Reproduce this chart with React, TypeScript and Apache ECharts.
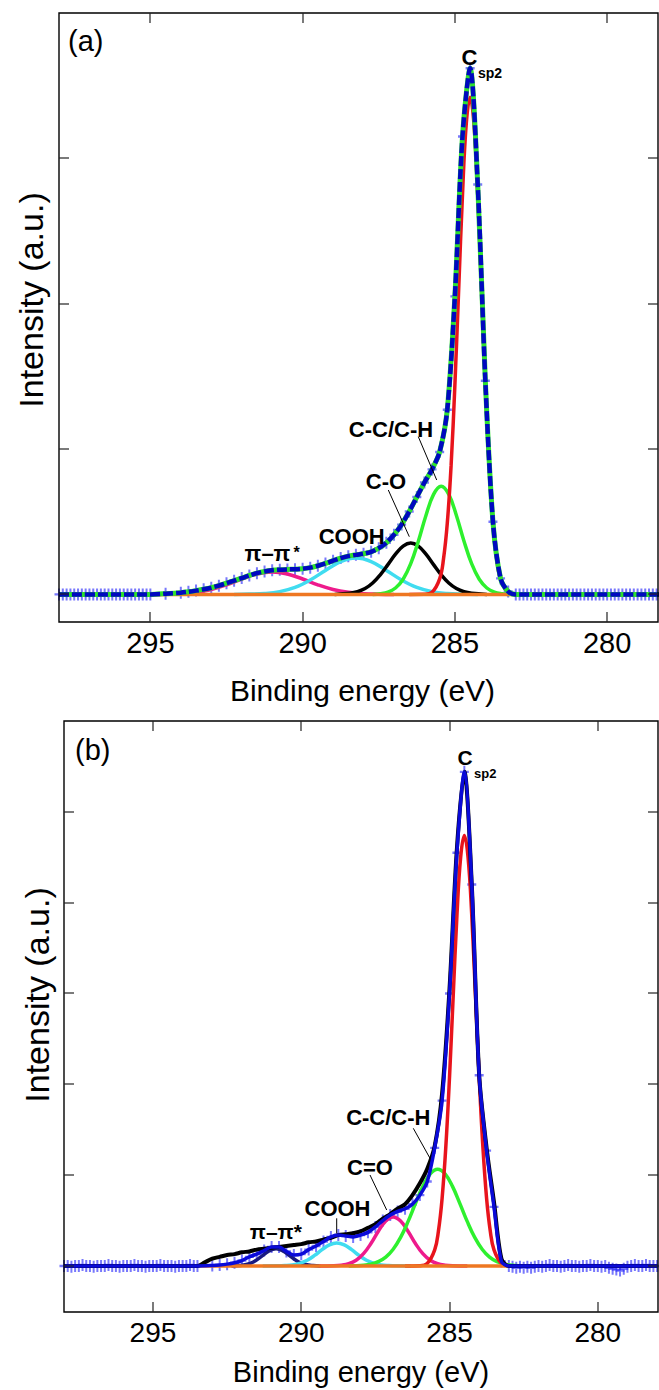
import React, { useEffect, useRef } from 'react';
import * as echarts from 'echarts';

// ---------- axis ticks ----------
const xTicks = [280, 285, 290, 295];
const yTicksA = [0, 1, 2, 3];
const yTicksB = [0, 1, 2, 3, 4, 5];

// ---------- panel (a) ----------
const envelopeA = [[295,0],[294.5,0.005],[294,0.012],[293.75,0.018],[293.5,0.026],[293.25,0.035],[293,0.046],[292.75,0.06],[292.5,0.077],[292.25,0.094],[292,0.112],[291.75,0.13],[291.5,0.146],[291.25,0.158],[291,0.166],[290.75,0.17],[290.5,0.172],[290.25,0.173],[290,0.177],[289.75,0.184],[289.5,0.197],[289.25,0.213],[289,0.232],[288.75,0.25],[288.5,0.263],[288.25,0.272],[288,0.28],[287.75,0.293],[287.5,0.318],[287.25,0.355],[287,0.41],[286.75,0.48],[286.5,0.57],[286.25,0.67],[286,0.77],[285.75,0.86],[285.5,0.98],[285.25,1.27],[285,2.05],[284.75,3.15],[284.5,3.62],[284.25,2.82],[284,1.47],[283.75,0.5],[283.5,0.11],[283.25,0.02],[283,0]];
const baseLeftA = [[298,0],[297.875,0],[297.75,0],[297.625,0],[297.5,0],[297.375,0],[297.25,0],[297.125,0],[297,0],[296.875,0],[296.75,0],[296.625,0],[296.5,0],[296.375,0],[296.25,0],[296.125,0],[296,0],[295.875,0],[295.75,0],[295.625,0],[295.5,0],[295.375,0],[295.25,0],[295.125,0]];
const baseRightA = [[282.875,0],[282.75,0],[282.625,0],[282.5,0],[282.375,0],[282.25,0],[282.125,0],[282,0],[281.875,0],[281.75,0],[281.625,0],[281.5,0],[281.375,0],[281.25,0],[281.125,0],[281,0],[280.875,0],[280.75,0],[280.625,0],[280.5,0],[280.375,0],[280.25,0],[280.125,0],[280,0],[279.875,0],[279.75,0],[279.625,0],[279.5,0],[279.375,0],[279.25,0],[279.125,0],[279,0],[278.875,0],[278.75,0],[278.625,0],[278.5,0],[278.375,0]];
const redA = [[282.5,0],[283,0.001],[283.25,0.015],[283.5,0.107],[283.625,0.241],[283.75,0.488],[283.875,0.884],[284,1.44],[284.125,2.1],[284.25,2.75],[284.375,3.24],[284.5,3.42],[284.625,3.24],[284.75,2.75],[284.875,2.1],[285,1.44],[285.125,0.884],[285.25,0.488],[285.375,0.241],[285.5,0.107],[285.75,0.015],[286,0.001],[286.5,0]];
const greenA = [[283.2,0],[283.45,0.005],[283.7,0.016],[283.95,0.044],[284.2,0.104],[284.45,0.211],[284.7,0.366],[284.95,0.543],[285.2,0.688],[285.45,0.744],[285.7,0.688],[285.95,0.543],[286.2,0.366],[286.45,0.211],[286.7,0.104],[286.95,0.044],[287.2,0.016],[287.45,0.005],[287.7,0]];
const blackA = [[283.95,0],[284.45,0.0075],[284.7,0.018],[284.95,0.04],[285.2,0.078],[285.45,0.135],[285.7,0.205],[285.95,0.277],[286.2,0.332],[286.45,0.353],[286.7,0.332],[286.95,0.277],[287.2,0.205],[287.45,0.135],[287.7,0.078],[287.95,0.04],[288.2,0.018],[288.45,0.0075],[288.95,0]];
const cyanA = [[284.25,0],[284.75,0.002],[285.25,0.006],[285.75,0.019],[286.25,0.048],[286.75,0.099],[287.25,0.165],[287.75,0.226],[288.25,0.25],[288.75,0.226],[289.25,0.165],[289.75,0.099],[290.25,0.048],[290.75,0.019],[291.25,0.006],[291.75,0.002],[292.25,0]];
const magentaA = [[287,0],[287.5,0.0015],[288,0.005],[288.5,0.015],[289,0.034],[289.5,0.066],[290,0.106],[290.5,0.14],[291,0.154],[291.5,0.14],[292,0.106],[292.5,0.066],[293,0.034],[293.5,0.015],[294,0.005],[294.5,0.0015],[295,0]];
const baselineA = [[298,0],[278.3,0]];

// ---------- panel (b) ----------
const envelopeB = [[293.5,0],[293,0.005],[292.75,0.01],[292.5,0.02],[292.25,0.035],[292,0.06],[291.75,0.1],[291.5,0.13],[291.25,0.17],[291,0.21],[290.75,0.21],[290.5,0.16],[290.25,0.12],[290,0.13],[289.75,0.18],[289.5,0.22],[289.25,0.27],[289,0.32],[288.75,0.34],[288.5,0.33],[288.25,0.32],[288,0.34],[287.75,0.37],[287.5,0.43],[287.25,0.5],[287,0.56],[286.75,0.6],[286.5,0.63],[286.25,0.68],[286,0.78],[285.75,0.93],[285.5,1.3],[285.25,1.82],[285,3.0],[284.75,4.55],[284.5,5.44],[284.25,4.2],[284,2.1],[283.75,1.27],[283.5,0.65],[283.25,0.05],[283,0]];
const rawB = [[298,0],[293.5,0],[293.25,0.04],[293,0.08],[292.75,0.1],[292.5,0.12],[292.25,0.13],[292,0.15],[291.75,0.16],[291.5,0.18],[291.25,0.19],[291,0.2],[290.75,0.21],[290.5,0.22],[290.25,0.23],[290,0.24],[289.75,0.26],[289.5,0.27],[289.25,0.29],[289,0.31],[288.75,0.34],[288.5,0.35],[288.25,0.36],[288,0.38],[287.75,0.42],[287.5,0.46],[287.25,0.52],[287,0.57],[286.75,0.63],[286.5,0.68],[286.25,0.78],[286,0.91],[285.75,1.07],[285.5,1.32],[285.25,1.9],[285,3.05],[284.75,4.6],[284.5,5.44],[284.25,4.2],[284,2.1],[283.75,1.3],[283.5,0.7],[283.25,0.08],[283,0],[278,0]];
const baseLeftB = [[298,0],[297.875,0],[297.75,-0.01],[297.625,0],[297.5,0],[297.375,0.01],[297.25,0],[297.125,0],[297,-0.01],[296.875,0],[296.75,0],[296.625,0],[296.5,0.01],[296.375,0],[296.25,0],[296.125,-0.01],[296,0],[295.875,0],[295.75,0],[295.625,0.01],[295.5,0],[295.375,0],[295.25,-0.01],[295.125,0],[295,0],[294.875,0],[294.75,0.01],[294.625,0],[294.5,0],[294.375,0],[294.25,-0.01],[294.125,0],[294,0],[293.875,0],[293.75,0.01],[293.625,0]];
const baseRightB = [[282.875,-0.01],[282.75,-0.02],[282.625,-0.01],[282.5,-0.02],[282.375,-0.01],[282.25,-0.02],[282.125,-0.01],[282,0],[281.875,-0.01],[281.75,0],[281.625,0.01],[281.5,0],[281.375,0],[281.25,-0.01],[281.125,0],[281,0.01],[280.875,0],[280.75,0],[280.625,-0.01],[280.5,0],[280.375,0],[280.25,0.01],[280.125,0],[280,0],[279.875,-0.01],[279.75,0],[279.625,-0.02],[279.5,-0.03],[279.375,-0.04],[279.25,-0.05],[279.125,-0.03],[279,-0.01],[278.875,0],[278.75,0.01],[278.625,0],[278.5,0],[278.375,0.01],[278.25,0],[278.125,0],[278,0]];
const redB = [[282.5,0],[283,0.003],[283.25,0.028],[283.5,0.177],[283.625,0.382],[283.75,0.745],[283.875,1.31],[284,2.08],[284.125,2.98],[284.25,3.86],[284.375,4.5],[284.5,4.74],[284.625,4.5],[284.75,3.86],[284.875,2.98],[285,2.08],[285.125,1.31],[285.25,0.745],[285.375,0.382],[285.5,0.177],[285.75,0.028],[286,0.003],[286.5,0]];
const greenB = [[282.4,0],[282.9,0.008],[283.15,0.02],[283.4,0.047],[283.65,0.097],[283.9,0.184],[284.15,0.314],[284.4,0.488],[284.65,0.687],[284.9,0.876],[285.15,1.014],[285.4,1.065],[285.65,1.014],[285.9,0.876],[286.15,0.687],[286.4,0.488],[286.65,0.314],[286.9,0.184],[287.15,0.097],[287.4,0.047],[287.65,0.02],[287.9,0.008],[288.4,0]];
const magentaB = [[284.4,0],[284.9,0.002],[285.15,0.008],[285.4,0.024],[285.65,0.062],[285.9,0.135],[286.15,0.247],[286.4,0.382],[286.65,0.495],[286.9,0.54],[287.15,0.495],[287.4,0.382],[287.65,0.247],[287.9,0.135],[288.15,0.062],[288.4,0.024],[288.65,0.008],[288.9,0.002],[289.4,0]];
const cyanB = [[286.3,0],[286.8,0.001],[287.05,0.004],[287.3,0.011],[287.55,0.029],[287.8,0.063],[288.05,0.116],[288.3,0.179],[288.55,0.232],[288.8,0.253],[289.05,0.232],[289.3,0.179],[289.55,0.116],[289.8,0.063],[290.05,0.029],[290.3,0.011],[290.55,0.004],[290.8,0.001],[291.3,0]];
const piB = [[289.35,0],[289.6,0.004],[289.85,0.016],[290.1,0.047],[290.35,0.103],[290.6,0.163],[290.85,0.19],[291.1,0.163],[291.35,0.103],[291.6,0.047],[291.85,0.016],[292.1,0.004],[292.35,0]];
const baselineB = [[298,0],[278,0]];

const FONT = 'Liberation Sans, Arial, sans-serif';
const PLUS = 'path://M3.5,0H5.5V10H3.5Z M0,4H9V6H0Z';
const RANGE_A = { xmin: 278.33, xmax: 298, ymin: -0.19, ymax: 4.0 };
const RANGE_B = { xmin: 277.97, xmax: 298, ymin: -0.507, ymax: 6.0 };

function axesFor(gridIndex: number, r: any, labelSize: number) {
  const xAxis = {
    type: 'value', gridIndex, position: 'bottom', min: r.xmin, max: r.xmax, inverse: true,
    axisLine: { show: false, onZero: false }, axisTick: { show: false }, splitLine: { show: false },
    axisLabel: { show: true, customValues: xTicks, margin: 6, color: '#000', fontSize: labelSize, fontFamily: FONT },
  };
  const yAxis = {
    type: 'value', gridIndex, position: 'left', min: r.ymin, max: r.ymax,
    axisLine: { show: false, onZero: false }, axisTick: { show: false }, splitLine: { show: false }, axisLabel: { show: false },
  };
  return { xAxis, yAxis };
}

function lineSeries(data: number[][], axisIdx: number, color: string, width: number, type: any = 'solid', smooth: number = 0.4) {
  return {
    type: 'line', xAxisIndex: axisIdx, yAxisIndex: axisIdx, data, showSymbol: false, smooth,
    lineStyle: { color, width, type }, silent: true,
  };
}

function markerSeries(data: number[][], axisIdx: number) {
  return {
    type: 'scatter', xAxisIndex: axisIdx, yAxisIndex: axisIdx, data, symbol: PLUS, symbolSize: [9, 12],
    itemStyle: { color: 'rgba(30,30,250,0.75)' }, silent: true,
  };
}

function txt(text: string, x: number, y: number, size: number, bold: boolean, align = 'center', rotation = 0) {
  return {
    type: 'text', x, y, rotation, z: 100,
    style: { text, font: `${bold ? 'bold ' : ''}${size}px ${FONT}`, fill: '#000', align, verticalAlign: 'middle' },
  };
}
function seg(x1: number, y1: number, x2: number, y2: number, stroke = '#000', lineWidth = 1) {
  return { type: 'line', z: 100, shape: { x1, y1, x2, y2 }, style: { stroke, lineWidth } };
}

const labels = [
  txt('(a)', 68, 41, 29, false, 'left'),
  txt('C', 469.5, 57, 22, true),
  txt('sp2', 478, 72.5, 14, true, 'left'),
  txt('C-C/C-H', 391, 429, 22, true),
  seg(418.3, 436.7, 436.7, 480),
  txt('C-O', 386, 481, 22, true),
  seg(388.3, 490, 409.3, 536.7),
  txt('COOH', 351.7, 536.7, 22, true),
  txt('π–π', 267.5, 553, 22, true),
  txt('*', 293.5, 552, 16, true, 'left'),
  txt('Binding energy (eV)', 362.5, 690, 30, false),
  txt('Intensity (a.u.)', 31, 300, 34, false, 'center', Math.PI / 2),

  txt('(b)', 75, 750, 29, false, 'left'),
  txt('C', 465, 757.5, 21, true),
  txt('sp2', 474, 773, 13, true, 'left'),
  txt('C-C/C-H', 388.3, 1117.5, 22, true),
  seg(413.3, 1128.3, 430, 1158.3),
  txt('C=O', 370, 1167.5, 22, true),
  seg(370, 1175, 386.7, 1210),
  txt('COOH', 337.5, 1208.3, 22, true),
  seg(336.7, 1218.3, 336.7, 1233.3),
  txt('π–π*', 275.8, 1231.7, 21, true),
  txt('Binding energy (eV)', 361, 1372, 29, false),
  txt('Intensity (a.u.)', 37, 995, 34, false, 'center', Math.PI / 2),
];

export default function App() {
  const ref = useRef<HTMLDivElement>(null);
  useEffect(() => {
    const chart = echarts.init(ref.current as HTMLDivElement, null, { renderer: 'svg' });
    const a = axesFor(0, RANGE_A, 29);
    const b = axesFor(1, RANGE_B, 28);
    const option: any = {
      animation: false,
      backgroundColor: '#fff',
      grid: [
        { left: 59, top: 13, width: 599, height: 609 },
        { left: 64, top: 721, width: 594, height: 591 },
      ],
      xAxis: [a.xAxis, b.xAxis],
      yAxis: [a.yAxis, b.yAxis],
      series: [
        // panel (a)
        lineSeries(magentaA, 0, '#ee1a8c', 3.5),
        lineSeries(cyanA, 0, '#40dcf0', 3.5),
        lineSeries(blackA, 0, '#000000', 3.5),
        lineSeries(greenA, 0, '#2ef02e', 3.5),
        lineSeries(redA, 0, '#e8141c', 3.5),
        lineSeries(baselineA, 0, '#ee7722', 3.5, 'solid', 0),
        lineSeries([[298, 0], ...envelopeA, [278.3, 0]], 0, '#2ee02e', 5, 'solid', 0.3),
        markerSeries([...baseLeftA, ...envelopeA, ...baseRightA], 0),
        lineSeries([[298, 0], ...envelopeA, [278.3, 0]], 0, '#0008c0', 4.5, [10, 3], 0.3),
        // panel (b)
        lineSeries(piB, 1, '#1a1a80', 3.5),
        lineSeries(cyanB, 1, '#40dcf0', 3.5),
        lineSeries(magentaB, 1, '#ee1a8c', 3.5),
        lineSeries(greenB, 1, '#2ef02e', 3.5),
        lineSeries(redB, 1, '#e8141c', 3.5),
        lineSeries(baselineB, 1, '#ee7722', 3.5, 'solid', 0),
        lineSeries(rawB, 1, '#000000', 4, 'solid', 0.3),
        markerSeries([...baseLeftB, ...envelopeB, ...baseRightB], 1),
        lineSeries([[298, 0], ...envelopeB, [278, 0]], 1, '#0a0ad8', 3.5, 'solid', 0.3),
      ],
    };
    chart.setOption(option);

    // frame and mirrored inward ticks, placed through the axes' own scales
    const extra: any[] = [];
    const frame = (idx: number, r: any, yTicks: number[]) => {
      const finder = { xAxisIndex: idx, yAxisIndex: idx };
      const tl = chart.convertToPixel(finder, [r.xmax, r.ymax]) as number[];
      const br = chart.convertToPixel(finder, [r.xmin, r.ymin]) as number[];
      const L = Math.round(tl[0]), T = Math.round(tl[1]);
      const R = Math.round(br[0]), B = Math.round(br[1]);
      extra.push({ type: 'rect', z: 90, shape: { x: L, y: T, width: R - L, height: B - T }, style: { fill: 'none', stroke: '#000', lineWidth: 1.4 } });
      xTicks.forEach((v) => {
        const px = Math.round(chart.convertToPixel({ xAxisIndex: idx }, v) as number);
        extra.push(seg(px, B, px, B - 10, '#222', 1.2));
        extra.push(seg(px, T, px, T + 10, '#222', 1.2));
      });
      yTicks.forEach((v) => {
        const py = Math.round(chart.convertToPixel({ yAxisIndex: idx }, v) as number);
        extra.push(seg(L, py, L + 10, py, '#222', 1.2));
        extra.push(seg(R, py, R - 10, py, '#222', 1.2));
      });
    };
    frame(0, RANGE_A, yTicksA);
    frame(1, RANGE_B, yTicksB);
    chart.setOption({ graphic: [...labels, ...extra] });
    return () => chart.dispose();
  }, []);
  return (
    <div
      ref={ref}
      style={{ position: 'fixed', left: 0, top: 0, width: 659, height: 1390, background: '#fff' }}
    />
  );
}
